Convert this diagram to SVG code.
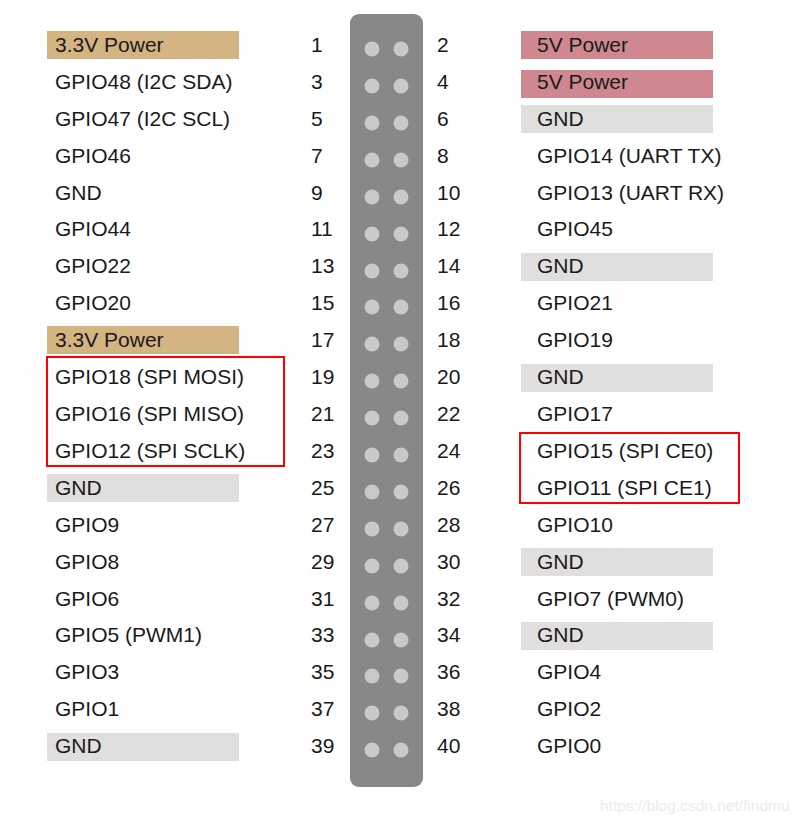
<svg xmlns="http://www.w3.org/2000/svg" width="800" height="823" viewBox="0 0 800 823">
<style>
text{font-family:"Liberation Sans",Arial,sans-serif;font-size:21px;fill:#1a1a1a}
.tan{fill:#D4B483}.pink{fill:#CF8890}.grey{fill:#E0DFDD}
.dot{fill:#C9C9C9}
.box{fill:none;stroke:#FF0000;stroke-width:2}
.wm{font-size:15.5px;fill:#EBEBEB}
</style>
<rect width="800" height="823" fill="#ffffff"/>
<g id="header">
<rect x="350" y="14" width="73" height="773" rx="9" fill="#878887"/>
<g id="pins">
<circle class="dot" cx="372" cy="49" r="7.5"/><circle class="dot" cx="401" cy="49" r="7.5"/>
<circle class="dot" cx="372" cy="86" r="7.5"/><circle class="dot" cx="401" cy="86" r="7.5"/>
<circle class="dot" cx="372" cy="123" r="7.5"/><circle class="dot" cx="401" cy="123" r="7.5"/>
<circle class="dot" cx="372" cy="160" r="7.5"/><circle class="dot" cx="401" cy="160" r="7.5"/>
<circle class="dot" cx="372" cy="197" r="7.5"/><circle class="dot" cx="401" cy="197" r="7.5"/>
<circle class="dot" cx="372" cy="234" r="7.5"/><circle class="dot" cx="401" cy="234" r="7.5"/>
<circle class="dot" cx="372" cy="271" r="7.5"/><circle class="dot" cx="401" cy="271" r="7.5"/>
<circle class="dot" cx="372" cy="307" r="7.5"/><circle class="dot" cx="401" cy="307" r="7.5"/>
<circle class="dot" cx="372" cy="344" r="7.5"/><circle class="dot" cx="401" cy="344" r="7.5"/>
<circle class="dot" cx="372" cy="381" r="7.5"/><circle class="dot" cx="401" cy="381" r="7.5"/>
<circle class="dot" cx="372" cy="418" r="7.5"/><circle class="dot" cx="401" cy="418" r="7.5"/>
<circle class="dot" cx="372" cy="455" r="7.5"/><circle class="dot" cx="401" cy="455" r="7.5"/>
<circle class="dot" cx="372" cy="492" r="7.5"/><circle class="dot" cx="401" cy="492" r="7.5"/>
<circle class="dot" cx="372" cy="529" r="7.5"/><circle class="dot" cx="401" cy="529" r="7.5"/>
<circle class="dot" cx="372" cy="566" r="7.5"/><circle class="dot" cx="401" cy="566" r="7.5"/>
<circle class="dot" cx="372" cy="603" r="7.5"/><circle class="dot" cx="401" cy="603" r="7.5"/>
<circle class="dot" cx="372" cy="640" r="7.5"/><circle class="dot" cx="401" cy="640" r="7.5"/>
<circle class="dot" cx="372" cy="676" r="7.5"/><circle class="dot" cx="401" cy="676" r="7.5"/>
<circle class="dot" cx="372" cy="713" r="7.5"/><circle class="dot" cx="401" cy="713" r="7.5"/>
<circle class="dot" cx="372" cy="750" r="7.5"/><circle class="dot" cx="401" cy="750" r="7.5"/>
</g>
</g>
<g id="left-bars">
<rect class="tan" x="47" y="31" width="192" height="28"/>
<rect class="tan" x="47" y="326" width="192" height="28"/>
<rect class="grey" x="47" y="474" width="192" height="28"/>
<rect class="grey" x="47" y="733" width="192" height="28"/>
</g>
<g id="right-bars">
<rect class="pink" x="521" y="31" width="192" height="28"/>
<rect class="pink" x="521" y="70" width="192" height="28"/>
<rect class="grey" x="521" y="105" width="192" height="28"/>
<rect class="grey" x="521" y="253" width="192" height="28"/>
<rect class="grey" x="521" y="364" width="192" height="28"/>
<rect class="grey" x="521" y="548" width="192" height="28"/>
<rect class="grey" x="521" y="622" width="192" height="28"/>
</g>
<g id="left-labels">
<text x="55" y="52">3.3V Power</text>
<text x="55" y="89">GPIO48 (I2C SDA)</text>
<text x="55" y="126">GPIO47 (I2C SCL)</text>
<text x="55" y="163">GPIO46</text>
<text x="55" y="200">GND</text>
<text x="55" y="236">GPIO44</text>
<text x="55" y="273">GPIO22</text>
<text x="55" y="310">GPIO20</text>
<text x="55" y="347">3.3V Power</text>
<text x="55" y="384">GPIO18 (SPI MOSI)</text>
<text x="55" y="421">GPIO16 (SPI MISO)</text>
<text x="55" y="458">GPIO12 (SPI SCLK)</text>
<text x="55" y="495">GND</text>
<text x="55" y="532">GPIO9</text>
<text x="55" y="569">GPIO8</text>
<text x="55" y="606">GPIO6</text>
<text x="55" y="642">GPIO5 (PWM1)</text>
<text x="55" y="679">GPIO3</text>
<text x="55" y="716">GPIO1</text>
<text x="55" y="753">GND</text>
</g>
<g id="left-numbers">
<text x="311" y="52">1</text><text x="311" y="89">3</text><text x="311" y="126">5</text><text x="311" y="163">7</text>
<text x="311" y="200">9</text><text x="311" y="236">11</text><text x="311" y="273">13</text><text x="311" y="310">15</text>
<text x="311" y="347">17</text><text x="311" y="384">19</text><text x="311" y="421">21</text><text x="311" y="458">23</text>
<text x="311" y="495">25</text><text x="311" y="532">27</text><text x="311" y="569">29</text><text x="311" y="606">31</text>
<text x="311" y="642">33</text><text x="311" y="679">35</text><text x="311" y="716">37</text><text x="311" y="753">39</text>
</g>
<g id="right-numbers">
<text x="437" y="52">2</text><text x="437" y="89">4</text><text x="437" y="126">6</text><text x="437" y="163">8</text>
<text x="437" y="200">10</text><text x="437" y="236">12</text><text x="437" y="273">14</text><text x="437" y="310">16</text>
<text x="437" y="347">18</text><text x="437" y="384">20</text><text x="437" y="421">22</text><text x="437" y="458">24</text>
<text x="437" y="495">26</text><text x="437" y="532">28</text><text x="437" y="569">30</text><text x="437" y="606">32</text>
<text x="437" y="642">34</text><text x="437" y="679">36</text><text x="437" y="716">38</text><text x="437" y="753">40</text>
</g>
<g id="right-labels">
<text x="537" y="52">5V Power</text>
<text x="537" y="89">5V Power</text>
<text x="537" y="126">GND</text>
<text x="537" y="163">GPIO14 (UART TX)</text>
<text x="537" y="200">GPIO13 (UART RX)</text>
<text x="537" y="236">GPIO45</text>
<text x="537" y="273">GND</text>
<text x="537" y="310">GPIO21</text>
<text x="537" y="347">GPIO19</text>
<text x="537" y="384">GND</text>
<text x="537" y="421">GPIO17</text>
<text x="537" y="458">GPIO15 (SPI CE0)</text>
<text x="537" y="495">GPIO11 (SPI CE1)</text>
<text x="537" y="532">GPIO10</text>
<text x="537" y="569">GND</text>
<text x="537" y="606">GPIO7 (PWM0)</text>
<text x="537" y="642">GND</text>
<text x="537" y="679">GPIO4</text>
<text x="537" y="716">GPIO2</text>
<text x="537" y="753">GPIO0</text>
</g>
<g id="highlights">
<rect class="box" x="47" y="357" width="237" height="109"/>
<rect class="box" x="520" y="433" width="219" height="70"/>
</g>
<text class="wm" x="600" y="811">https://blog.csdn.net/findmu</text>
</svg>
